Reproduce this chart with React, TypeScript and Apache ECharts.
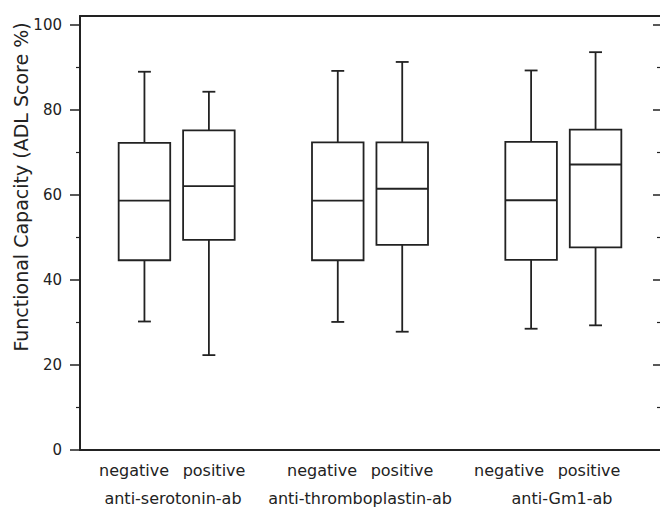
import React, { useEffect, useRef } from "react";
import * as echarts from "echarts";

const positions = [1, 2, 4, 5, 7, 8];
const mins = [30.2, 22.3, 30.1, 27.8, 28.5, 29.3];
const q1s = [44.6, 49.4, 44.6, 48.2, 44.7, 47.6];
const medians = [58.6, 62.0, 58.6, 61.4, 58.7, 67.1];
const q3s = [72.2, 75.1, 72.3, 72.3, 72.4, 75.3];
const maxs = [88.9, 84.2, 89.1, 91.2, 89.2, 93.5];

const subLabels = ["negative", "positive", "negative", "positive", "negative", "positive"];
const groupLabels = ["anti-serotonin-ab", "anti-thromboplastin-ab", "anti-Gm1-ab"];
const majorTicks = [0, 20, 40, 60, 80, 100];
const rightMajorTicks = [20, 40, 60, 80, 100];
const minorTicks = [10, 30, 50, 70, 90];
const yTitle = "Functional Capacity (ADL Score %)";

const INK = "#222";
const FONT = "DejaVu Sans";

export default function App() {
  const ref = useRef<HTMLDivElement>(null);
  useEffect(() => {
    if (!ref.current) return;
    const chart = echarts.init(ref.current, null, { renderer: "svg" });
    const data = positions.map((p, i) => [p, mins[i], q1s[i], medians[i], q3s[i], maxs[i]]);
    const subX = [134, 214, 322, 402, 509, 589];
    const groupX = [173, 360, 562];
    const baseY = {
      type: "value",
      min: 0,
      max: 102,
      splitLine: { show: false },
    };
    chart.setOption({
      animation: false,
      backgroundColor: "#fff",
      grid: { left: 80, right: 0, top: 16, bottom: 58 },
      xAxis: [
        {
          type: "value",
          min: 0,
          max: 9,
          position: "bottom",
          axisLine: { show: true, onZero: false, lineStyle: { color: INK, width: 2 } },
          axisTick: { show: false },
          axisLabel: { show: false },
          splitLine: { show: false },
        },
        {
          type: "value",
          min: 0,
          max: 9,
          position: "top",
          axisLine: { show: true, onZero: false, lineStyle: { color: INK, width: 2 } },
          axisTick: { show: false },
          axisLabel: { show: false },
          splitLine: { show: false },
        },
      ],
      yAxis: [
        {
          ...baseY,
          position: "left",
          axisLine: { show: true, onZero: false, lineStyle: { color: INK, width: 2 } },
          axisTick: { show: true, length: 10, customValues: majorTicks, lineStyle: { color: INK, width: 1.5 } },
          axisLabel: {
            show: true,
            customValues: majorTicks,
            margin: 18,
            color: INK,
            fontSize: 15,
            fontFamily: FONT,
          },
        },
        {
          ...baseY,
          position: "left",
          axisLine: { show: false, onZero: false },
          axisTick: { show: true, length: 4, customValues: minorTicks, lineStyle: { color: INK, width: 1.2 } },
          axisLabel: { show: false },
        },
        {
          ...baseY,
          position: "right",
          axisLine: { show: false, onZero: false },
          axisTick: { show: true, inside: true, length: 3, customValues: minorTicks, lineStyle: { color: INK, width: 1.2 } },
          axisLabel: { show: false },
        },
        {
          ...baseY,
          position: "right",
          axisLine: { show: false, onZero: false },
          axisTick: { show: true, inside: true, length: 7, customValues: rightMajorTicks, lineStyle: { color: INK, width: 1.5 } },
          axisLabel: { show: false },
        },
      ],
      series: [
        {
          type: "custom",
          xAxisIndex: 0,
          yAxisIndex: 0,
          data,
          renderItem: (params: any, api: any) => {
            const x = api.value(0);
            const lo = api.coord([x, api.value(1)]);
            const q1 = api.coord([x, api.value(2)]);
            const md = api.coord([x, api.value(3)]);
            const q3 = api.coord([x, api.value(4)]);
            const hi = api.coord([x, api.value(5)]);
            const hw = api.size([0.8, 0])[0] / 2;
            const cw = api.size([0.2, 0])[0] / 2;
            const cx = lo[0];
            const st = { stroke: INK, lineWidth: 1.8, fill: null };
            return {
              type: "group",
              children: [
                { type: "rect", shape: { x: cx - hw, y: q3[1], width: hw * 2, height: q1[1] - q3[1] }, style: { stroke: INK, lineWidth: 1.8, fill: "#fff" } },
                { type: "line", shape: { x1: cx - hw, y1: md[1], x2: cx + hw, y2: md[1] }, style: st },
                { type: "line", shape: { x1: cx, y1: q3[1], x2: cx, y2: hi[1] }, style: st },
                { type: "line", shape: { x1: cx, y1: q1[1], x2: cx, y2: lo[1] }, style: st },
                { type: "line", shape: { x1: cx - cw, y1: hi[1], x2: cx + cw, y2: hi[1] }, style: st },
                { type: "line", shape: { x1: cx - cw, y1: lo[1], x2: cx + cw, y2: lo[1] }, style: st },
              ],
            };
          },
        },
      ],
      graphic: [
        {
          type: "text",
          x: 21,
          y: 187,
          rotation: Math.PI / 2,
          style: { text: yTitle, fill: INK, fontSize: 19, fontFamily: FONT, align: "center", verticalAlign: "middle" },
        },
        ...subLabels.map((t, i) => ({
          type: "text",
          x: subX[i],
          y: 470,
          style: { text: t, fill: INK, fontSize: 16, fontFamily: FONT, align: "center", verticalAlign: "middle" },
        })),
        ...groupLabels.map((t, i) => ({
          type: "text",
          x: groupX[i],
          y: 498,
          style: { text: t, fill: INK, fontSize: 16, fontFamily: FONT, align: "center", verticalAlign: "middle" },
        })),
      ],
    });
    return () => chart.dispose();
  }, []);
  return <div ref={ref} style={{ position: "fixed", left: 0, top: 0, width: 660, height: 508 }} />;
}
